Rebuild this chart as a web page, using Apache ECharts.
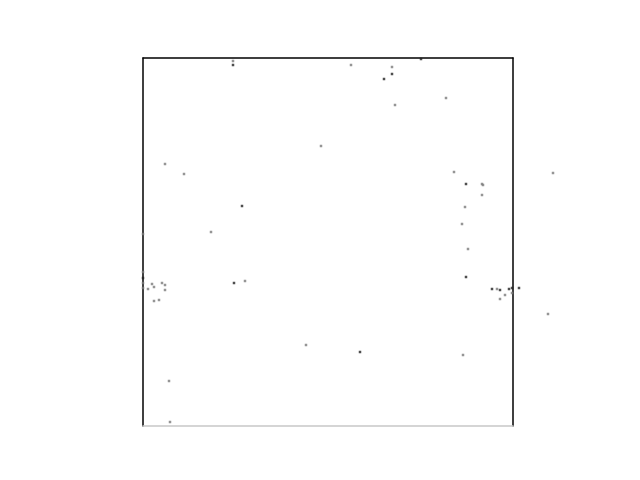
<!DOCTYPE html>
<html>
<head>
<meta charset="utf-8">
<script src="https://cdn.jsdelivr.net/npm/echarts@6/dist/echarts.min.js"></script>
<style>html,body{margin:0;padding:0;background:#fff}#c{width:640px;height:480px}</style>
</head>
<body>
<div id="c"></div>
<script>
// Point positions in data units (x: 0..370 left to right, y: 0..368 bottom to top)
var darkX = [90, 249, 241, 278, 99, 0, 91, 323, 357, 323, 366, 217, 376, 369, 349];
var darkY = [361, 352, 347, 367, 220, 148, 143, 242, 136, 149, 137, 74, 138, 138, 137];
var lightX = [90, 178, 22, 41, 208, 249, 303, 252, 311, 68, 0, 0, 0, 0, 9, 11, 5, 19, 22, 22, 11, 16, 102, 410, 339, 340, 339, 322, 319, 325, 354, 369, 362, 357, 405, 163, 26, 27, 320];
var lightY = [365, 280, 262, 252, 361, 359, 328, 321, 254, 194, 192, 154, 143, 138, 142, 139, 137, 143, 141, 136, 125, 126, 145, 253, 242, 241, 231, 219, 202, 177, 137, 133, 131, 127, 112, 81, 45, 4, 71];

function pts(xs, ys){ return xs.map(function(x,i){ return [x, ys[i]]; }); }

var chart = echarts.init(document.getElementById('c'), null, {renderer:'canvas'});
var hidden = {show:false};
chart.setOption({
  animation:false,
  backgroundColor:'#ffffff',
  grid:{left:143, top:58, width:370, height:368, containLabel:false},
  xAxis:[
    {type:'value', min:0, max:370, position:'bottom', axisLine:{show:true, onZero:false, lineStyle:{color:'#c8c8c8', width:1.5}}, axisTick:hidden, axisLabel:hidden, splitLine:hidden},
    {type:'value', min:0, max:370, position:'top', axisLine:{show:true, onZero:false, lineStyle:{color:'#000', width:1.5}}, axisTick:hidden, axisLabel:hidden, splitLine:hidden}
  ],
  yAxis:[
    {type:'value', min:0, max:368, position:'left', axisLine:{show:true, onZero:false, lineStyle:{color:'#000', width:1.5}}, axisTick:hidden, axisLabel:hidden, splitLine:hidden},
    {type:'value', min:0, max:368, position:'right', axisLine:{show:true, onZero:false, lineStyle:{color:'#000', width:1.5}}, axisTick:hidden, axisLabel:hidden, splitLine:hidden}
  ],
  series:[
    {type:'scatter', xAxisIndex:0, yAxisIndex:0, clip:false, symbol:'rect', symbolSize:2.5, itemStyle:{color:'#7a7a7a'}, data:pts(lightX, lightY)},
    {type:'scatter', xAxisIndex:0, yAxisIndex:0, clip:false, symbol:'rect', symbolSize:2.5, itemStyle:{color:'#222222'}, data:pts(darkX, darkY)}
  ]
});
</script>
</body>
</html>
